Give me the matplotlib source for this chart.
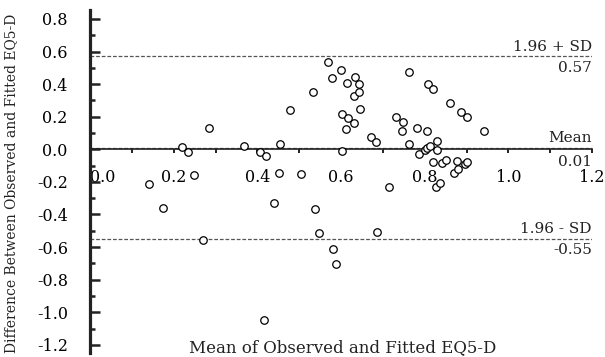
import matplotlib
matplotlib.use("Agg")
import matplotlib.pyplot as plt
from matplotlib.ticker import MultipleLocator, FixedLocator

# Data
mean_vals = [0.140, 0.175, 0.220, 0.234, 0.248, 0.271, 0.285, 0.368, 0.407, 0.420,
             0.417, 0.441, 0.451, 0.455, 0.478, 0.505, 0.534, 0.537, 0.548, 0.568,
             0.578, 0.580, 0.589, 0.600, 0.602, 0.603, 0.612, 0.614, 0.617, 0.630,
             0.632, 0.634, 0.643, 0.643, 0.645, 0.672, 0.684, 0.686, 0.714, 0.732,
             0.746, 0.748, 0.762, 0.763, 0.782, 0.786, 0.800, 0.805, 0.806, 0.808,
             0.813, 0.820, 0.820, 0.828, 0.829, 0.829, 0.837, 0.841, 0.851, 0.860,
             0.869, 0.877, 0.880, 0.888, 0.896, 0.901, 0.901, 0.943]
diff_vals = [-0.212, -0.361, 0.015, -0.015, -0.158, -0.558, 0.130, 0.020, -0.014, -0.040,
             -1.049, -0.331, -0.143, 0.030, 0.240, -0.149, 0.354, -0.368, -0.511, 0.534,
             0.440, -0.613, -0.703, 0.487, -0.008, 0.215, 0.125, 0.405, 0.190, 0.160,
             0.328, 0.444, 0.403, 0.352, 0.246, 0.078, 0.046, -0.509, -0.229, 0.197,
             0.110, 0.170, 0.031, 0.477, 0.130, -0.030, -0.004, 0.113, 0.008, 0.400,
             0.023, 0.370, -0.075, -0.229, 0.053, -0.004, -0.204, -0.085, -0.066, 0.283,
             -0.147, -0.069, -0.122, 0.228, -0.091, 0.200, -0.079, 0.115]

upper_loa = 0.57
mean_diff = 0.01
lower_loa = -0.55

x_ticks = [0.0, 0.2, 0.4, 0.6, 0.8, 1.0, 1.2]
x_tick_labels = ["0.0", "0.2", "0.4", "0.6", "0.8", "1.0", "1.2"]
y_ticks = [0.8, 0.6, 0.4, 0.2, 0.0, -0.2, -0.4, -0.6, -0.8, -1.0, -1.2]
y_tick_labels = ["0.8", "0.6", "0.4", "0.2", "0.0", "-0.2", "-0.4", "-0.6", "-0.8", "-1.0", "-1.2"]

FONT = "DejaVu Serif"
plt.rcParams["font.family"] = FONT

fig = plt.figure(figsize=(6.05, 3.57), dpi=100)
ax = fig.add_axes([90/605, 1-353/357, (592-90)/605, (353-10)/357])

ax.set_xlim(0, 1.2)
ax.set_ylim(-1.25, 0.855)

# spines
for s in ["top", "right"]:
    ax.spines[s].set_visible(False)
ax.spines["left"].set_linewidth(2.3)
ax.spines["left"].set_color("#222222")
ax.spines["bottom"].set_position(("data", 0))
ax.spines["bottom"].set_linewidth(1.2)
ax.spines["bottom"].set_color("#222222")

# reference lines
line_kw = dict(color="#555555", linewidth=0.9, linestyle=(0, (3, 1.5)), zorder=1)
for v in (upper_loa, mean_diff, lower_loa):
    ax.axhline(v, **line_kw)

# scatter
ax.plot(mean_vals, diff_vals, linestyle="none", marker="o", markersize=5.4,
        markerfacecolor="white", markeredgecolor="black", markeredgewidth=0.9,
        zorder=3, clip_on=False)

# ticks
ax.xaxis.set_major_locator(FixedLocator(x_ticks))
ax.set_xticklabels(x_tick_labels)
ax.xaxis.set_minor_locator(MultipleLocator(0.1))
ax.tick_params(axis="x", which="both", direction="out", length=3, width=1.4,
               color="#222222", labelsize=11.5, pad=11)
ax.yaxis.set_major_locator(FixedLocator(y_ticks))
ax.set_yticklabels(y_tick_labels)
ax.yaxis.set_minor_locator(MultipleLocator(0.1))
ax.tick_params(axis="y", which="major", direction="in", length=7, width=1.8,
               color="#222222", labelsize=11.5, pad=16)
ax.tick_params(axis="y", which="minor", direction="in", length=3.5, width=1.8,
               color="#222222")
ax.get_xticklabels()[0].set_horizontalalignment("left")

# annotations for limits
def lab(txt, y, above):
    ax.annotate(txt, xy=(1.2, y), xytext=(0, 2 if above else -3),
                textcoords="offset points", ha="right",
                va="bottom" if above else "top", fontsize=11, color="#222222")

lab("1.96 + SD", upper_loa, True)
lab("0.57", upper_loa, False)
lab("Mean", mean_diff, True)
ax.annotate("0.01", xy=(1.2, mean_diff), xytext=(0, -5), textcoords="offset points",
            ha="right", va="top", fontsize=11, color="#222222")
lab("1.96 - SD", lower_loa, True)
lab("-0.55", lower_loa, False)

# axis titles
fig.text(343/605, 1-348/357, "Mean of Observed and Fitted EQ5-D", ha="center",
         va="center", fontsize=12, color="#222222")
fig.text(11/605, 1-183/357, "Difference Between Observed and Fitted EQ5-D",
         rotation=90, ha="center", va="center", fontsize=10, color="#222222")

fig.savefig("out.png", dpi=100)
